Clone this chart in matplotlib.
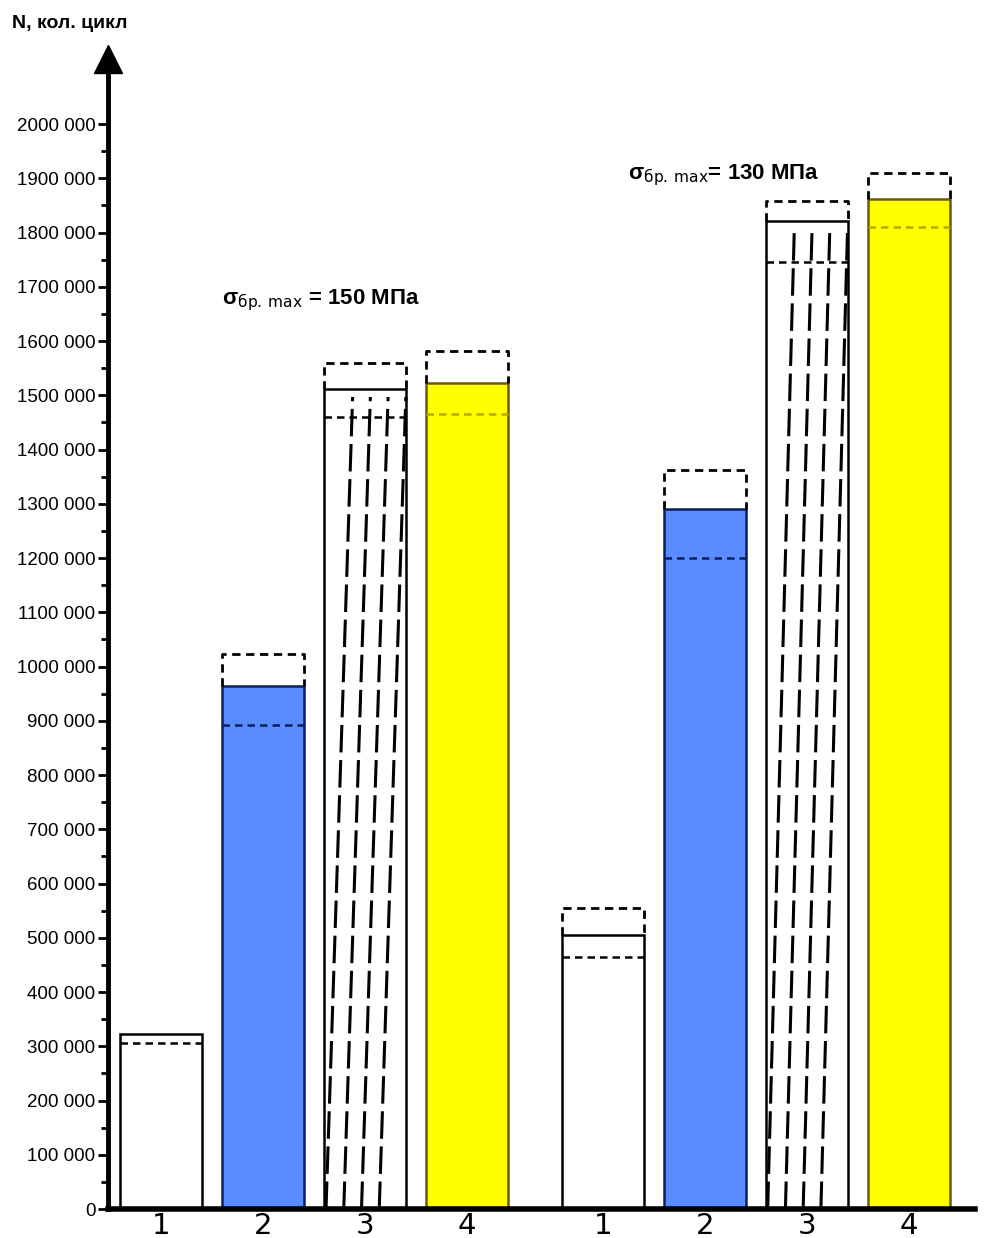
import matplotlib.pyplot as plt
import numpy as np

# values (cycles)
labels = ['1', '2', '3', '4']
n_mean = [[322000, 964000, 1512000, 1522000],
          [505000, 1290000, 1822000, 1862000]]
n_upper = [[None, 1023000, 1560000, 1582000],
           [555000, 1362000, 1858000, 1910000]]
n_lower = [[306000, 892000, 1460000, 1466000],
           [465000, 1200000, 1745000, 1810000]]
notes = ['= 150 МПа', '= 130 МПа']

face = ['white', '#5b8cff', 'white', '#ffff00']
edge = ['black', '#0b1f5c', 'black', '#6b5c00']
low_col = ['black', '#0b1f5c', 'black', '#b8a800']

plt.rcParams['font.family'] = ['Liberation Sans', 'DejaVu Sans']

fig = plt.figure(figsize=(9.94, 12.38), dpi=100)
ax = fig.add_axes([108/994, 29/1238, (975-108)/994, (1209-59)/1238])

w = 0.8
group_off = 4.33
xs = []
for g in range(2):
    for i in range(4):
        x = g*group_off + i
        xs.append(x)
        h = n_mean[g][i]
        ax.bar(x, h, width=w, color=face[i], edgecolor=edge[i], lw=1.8, zorder=2)
        x0, x1 = x - w/2, x + w/2
        if i == 2:
            # slanted dashed hatching
            for k in range(4):
                ax.plot([x0 + (k+0.1)*w/4.6, x0 + (k+1.6)*w/4.6], [0, h*0.99],
                        color='black', lw=2.2, ls=(0, (9, 2.5)), zorder=3)
        up = n_upper[g][i]
        if up is not None:
            ax.plot([x0, x0, x1, x1], [h, up, up, h], color='black', lw=2,
                    ls=(0, (3, 2)), zorder=3)
        ax.plot([x0, x1], [n_lower[g][i]]*2, color=low_col[i], lw=1.8,
                ls=(0, (3, 2)), zorder=3)

ax.set_xlim(-0.52, 7.98)
ax.set_ylim(0, 2120000)

for s in ['top', 'right']:
    ax.spines[s].set_visible(False)
ax.spines['left'].set_linewidth(3.5)
ax.spines['bottom'].set_linewidth(4)
ax.plot(0, 1.0, marker='^', ms=20, color='black', transform=ax.transAxes,
        clip_on=False, zorder=5)

major = np.arange(0, 2000001, 100000)
ax.set_yticks(major)
ax.set_yticklabels(['0' if v == 0 else f'{v//1000} 000' for v in major], fontsize=13.5)
ax.set_yticks(np.arange(50000, 2000000, 100000), minor=True)
ax.tick_params(axis='y', which='major', length=7, width=2, pad=2)
ax.tick_params(axis='y', which='minor', length=5, width=2)

ax.set_xticks(xs)
ax.set_xticklabels(labels*2, fontsize=21, family='DejaVu Sans')
ax.tick_params(axis='x', length=0, pad=2)

fig.text(12/994, 1 - 24/1238, 'N, кол. цикл', fontsize=14, fontweight='bold',
         va='center', ha='left')

ax.text(0.6, 1676000, r'σ$_{\mathrm{бр.\,max}}$ ' + notes[0], fontsize=16,
        fontweight='bold', ha='left', va='center')
ax.text(4.58, 1906000, r'σ$_{\mathrm{бр.\,max}}$' + notes[1], fontsize=16,
        fontweight='bold', ha='left', va='center')

fig.savefig('out.png', dpi=100)
